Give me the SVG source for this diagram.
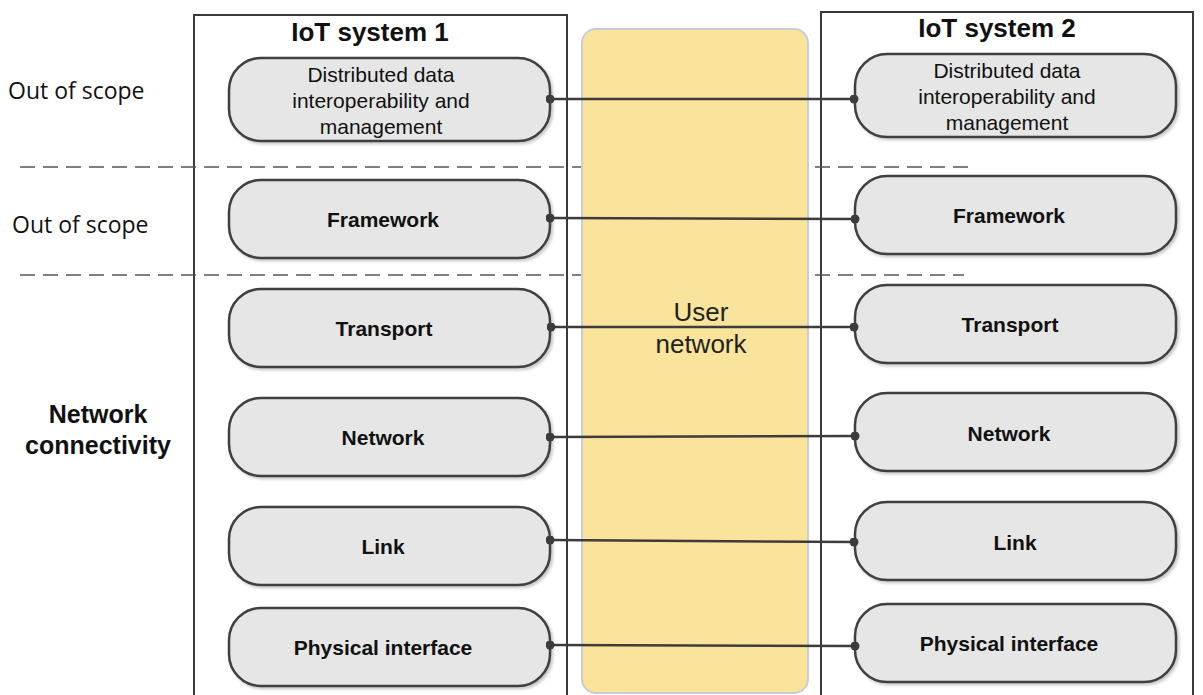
<svg xmlns="http://www.w3.org/2000/svg" width="1203" height="695" viewBox="0 0 1203 695">
  <defs>
    <filter id="shadow" x="-5%" y="-10%" width="115%" height="130%">
      <feDropShadow dx="2" dy="2" stdDeviation="1.5" flood-color="#000" flood-opacity="0.22"/>
    </filter>
    <marker id="dot" viewBox="0 0 10 10" refX="5" refY="5" markerWidth="9" markerHeight="9" markerUnits="userSpaceOnUse">
      <circle cx="5" cy="5" r="5" fill="#3c3c3c"/>
    </marker>
  </defs>
  <style>
    .sys { fill: #ffffff; stroke: #3a3a3a; stroke-width: 2; }
    .title { font-family: "Liberation Sans", Arial, sans-serif; font-weight: bold; font-size: 26px; fill: #111; text-anchor: middle; }
    .side { font-family: "Open Sans", "Liberation Sans", sans-serif; font-size: 23px; fill: #111; }
    .sidebold { font-family: "Liberation Sans", Arial, sans-serif; font-weight: bold; font-size: 25px; fill: #111; text-anchor: middle; }
    .layer rect { fill: #e6e6e6; stroke: #3f3f3f; stroke-width: 2.5; filter: url(#shadow); }
    .lbl { font-family: "Liberation Sans", Arial, sans-serif; font-weight: bold; font-size: 21px; fill: #111; text-anchor: middle; }
    .lblr { font-family: "Liberation Sans", Arial, sans-serif; font-size: 21px; fill: #111; text-anchor: middle; }
    .dash { stroke: #555; stroke-width: 1.6; stroke-dasharray: 15 8; fill: none; }
    .link { stroke: #3c3c3c; stroke-width: 2.5; fill: none; marker-start: url(#dot); marker-end: url(#dot); }
    .net { font-family: "Liberation Sans", Arial, sans-serif; font-size: 26px; fill: #222; text-anchor: middle; }
  </style>

  <!-- side captions -->
  <g id="captions">
    <text class="side" x="8" y="99">Out of scope</text>
    <text class="side" x="12" y="233">Out of scope</text>
    <text class="sidebold" x="98" y="423">Network</text>
    <text class="sidebold" x="98" y="454">connectivity</text>
  </g>

  <!-- system frames -->
  <g id="iot-system-1">
    <rect class="sys" x="194" y="15" width="373" height="700"/>
    <text class="title" x="370" y="41">IoT system 1</text>
  </g>
  <g id="iot-system-2">
    <rect class="sys" x="821" y="12" width="372" height="703"/>
    <text class="title" x="997" y="37">IoT system 2</text>
  </g>

  <!-- scope separators -->
  <g id="separators">
    <line class="dash" x1="20" y1="167" x2="582" y2="167"/>
    <line class="dash" x1="815" y1="167" x2="970" y2="167"/>
    <line class="dash" x1="20" y1="275" x2="582" y2="275"/>
    <line class="dash" x1="815" y1="275" x2="964" y2="275"/>
  </g>

  <!-- shared network -->
  <g id="user-network">
    <rect x="582" y="29" width="226" height="664" rx="14" fill="#fae49b" stroke="#c8cdd5" stroke-width="2"/>
    <text class="net" x="701" y="321">User</text>
    <text class="net" x="701" y="353">network</text>
  </g>

  <!-- layers of system 1 -->
  <g id="s1-data" class="layer">
    <rect x="229" y="58" width="321" height="83" rx="32"/>
    <text class="lblr" x="381" y="82">Distributed data</text>
    <text class="lblr" x="381" y="108">interoperability and</text>
    <text class="lblr" x="381" y="134">management</text>
  </g>
  <g id="s1-framework" class="layer">
    <rect x="229" y="180" width="321" height="78" rx="32"/>
    <text class="lbl" x="383" y="227">Framework</text>
  </g>
  <g id="s1-transport" class="layer">
    <rect x="229" y="289" width="321" height="78" rx="32"/>
    <text class="lbl" x="384" y="336">Transport</text>
  </g>
  <g id="s1-network" class="layer">
    <rect x="229" y="398" width="321" height="78" rx="32"/>
    <text class="lbl" x="383" y="445">Network</text>
  </g>
  <g id="s1-link" class="layer">
    <rect x="229" y="507" width="321" height="78" rx="32"/>
    <text class="lbl" x="383" y="554">Link</text>
  </g>
  <g id="s1-physical" class="layer">
    <rect x="229" y="608" width="321" height="78" rx="32"/>
    <text class="lbl" x="383" y="655">Physical interface</text>
  </g>

  <!-- layers of system 2 -->
  <g id="s2-data" class="layer">
    <rect x="855" y="54" width="321" height="83" rx="32"/>
    <text class="lblr" x="1007" y="78">Distributed data</text>
    <text class="lblr" x="1007" y="104">interoperability and</text>
    <text class="lblr" x="1007" y="130">management</text>
  </g>
  <g id="s2-framework" class="layer">
    <rect x="855" y="176" width="321" height="78" rx="32"/>
    <text class="lbl" x="1009" y="223">Framework</text>
  </g>
  <g id="s2-transport" class="layer">
    <rect x="855" y="285" width="321" height="78" rx="32"/>
    <text class="lbl" x="1010" y="332">Transport</text>
  </g>
  <g id="s2-network" class="layer">
    <rect x="855" y="393" width="321" height="78" rx="32"/>
    <text class="lbl" x="1009" y="441">Network</text>
  </g>
  <g id="s2-link" class="layer">
    <rect x="855" y="502" width="321" height="78" rx="32"/>
    <text class="lbl" x="1015" y="550">Link</text>
  </g>
  <g id="s2-physical" class="layer">
    <rect x="855" y="604" width="321" height="78" rx="32"/>
    <text class="lbl" x="1009" y="651">Physical interface</text>
  </g>

  <!-- peer-layer connectors -->
  <g id="connectors">
    <line class="link" x1="550" y1="99" x2="854" y2="99"/>
    <line class="link" x1="550" y1="218" x2="855" y2="219"/>
    <line class="link" x1="551" y1="327" x2="854" y2="327"/>
    <line class="link" x1="550" y1="437" x2="855" y2="436"/>
    <line class="link" x1="550" y1="540" x2="854" y2="542"/>
    <line class="link" x1="550" y1="645" x2="855" y2="646"/>
  </g>
</svg>
